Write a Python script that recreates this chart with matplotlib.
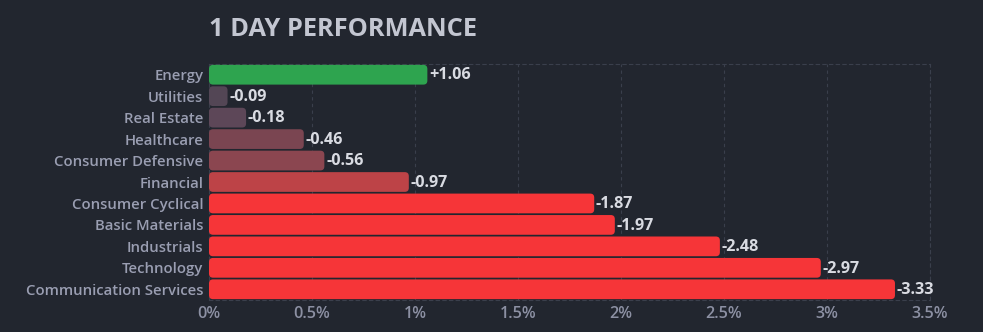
import matplotlib
matplotlib.use("Agg")
import matplotlib.pyplot as plt
from matplotlib.patches import FancyBboxPatch

plt.rcParams['font.family'] = ['Open Sans', 'DejaVu Sans']

sectors = ['Energy', 'Utilities', 'Real Estate', 'Healthcare', 'Consumer Defensive',
           'Financial', 'Consumer Cyclical', 'Basic Materials', 'Industrials',
           'Technology', 'Communication Services']
changes = [1.06, -0.09, -0.18, -0.46, -0.56, -0.97, -1.87, -1.97, -2.48, -2.97, -3.33]
colors = ['#2ea44f', '#534655', '#5d4758', '#7a4551', '#8b4650', '#bd4347',
          '#f63538', '#f63538', '#f63538', '#f63538', '#f63538']
xticks = [0, 0.5, 1, 1.5, 2, 2.5, 3, 3.5]
xticklabels = ['0%', '0.5%', '1%', '1.5%', '2%', '2.5%', '3%', '3.5%']

bg = '#22262f'
fig = plt.figure(figsize=(9.83, 3.32), dpi=100, facecolor=bg)
ax = fig.add_axes([209 / 983, 32 / 332, 721 / 983, 236 / 332], facecolor=bg)

ypos = list(range(len(sectors)))
bars = ax.barh(ypos, [abs(c) for c in changes], height=0.92, color=colors)
ax.set_xlim(0, 3.5)
ax.set_ylim(len(sectors) - 0.5, -0.5)

# swap plain rectangles for rounded ones
fig.canvas.draw()
px_x = ax.transData.transform((1, 0))[0] - ax.transData.transform((0, 0))[0]
px_y = abs(ax.transData.transform((0, 1))[1] - ax.transData.transform((0, 0))[1])
r_px = 4
rs = r_px / px_x
aspect = (r_px / px_y) / rs
for b in bars:
    x, y = b.get_x(), b.get_y()
    w, h = b.get_width(), b.get_height()
    b.set_visible(False)
    p = FancyBboxPatch((x, y), w, h, boxstyle=f"round,pad=0,rounding_size={rs}",
                       mutation_aspect=aspect, facecolor=b.get_facecolor(),
                       edgecolor='none', zorder=3)
    ax.add_patch(p)

for i, c in enumerate(changes):
    txt = f"+{c:.2f}" if c > 0 else f"{c:.2f}"
    ax.annotate(txt, (abs(c), i), xytext=(1.2, -0.5), textcoords='offset points',
                va='center', ha='left', color='#d9dbe2', fontsize=11.6,
                fontweight='bold', zorder=4)

ax.set_yticks(ypos)
ax.set_yticklabels(sectors, color='#9a9eb2', fontsize=10.7, fontweight='semibold')
ax.set_xticks(xticks)
ax.set_xticklabels(xticklabels, color='#8c90a3', fontsize=11.6, fontweight='semibold')
ax.tick_params(length=0, pad=4)
ax.tick_params(axis='x', pad=4)

ax.grid(axis='x', color='#3a3f4c', linestyle=(0, (3, 3)), linewidth=0.8, zorder=0)
for s in ax.spines.values():
    s.set_color('#3a3f4c')
    s.set_linestyle((0, (3, 3)))
    s.set_linewidth(0.8)

fig.text(209 / 983, 1 - 29 / 332, '1 DAY PERFORMANCE', color='#c3c6d1',
         fontsize=18.3, fontweight='bold', va='center', ha='left')

fig.savefig('out.png', dpi=100, facecolor=bg)
